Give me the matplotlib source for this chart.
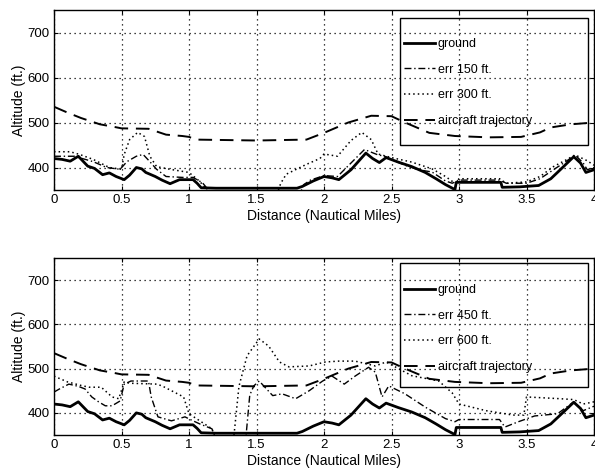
import matplotlib
matplotlib.use("Agg")
import matplotlib.pyplot as plt
from matplotlib.patches import Rectangle

plt.rcParams['font.family'] = ['Liberation Sans', 'DejaVu Sans']

# ---- data ----
ground_d = [0, 0.06, 0.12, 0.18, 0.25, 0.3, 0.36, 0.41, 0.46, 0.52, 0.56, 0.61, 0.65, 0.68,
            0.75, 0.8, 0.86, 0.93, 1.03, 1.06, 1.09, 1.2, 1.5, 1.8, 1.84, 1.92, 2.0, 2.06,
            2.11, 2.2, 2.31, 2.36, 2.41, 2.46, 2.55, 2.65, 2.75, 2.83, 2.9, 2.97, 2.98,
            3.31, 3.32, 3.45, 3.59, 3.68, 3.75, 3.85, 3.9, 3.94, 4.0]
ground_alt = [420, 418, 414, 425, 403, 398, 384, 388, 380, 373, 383, 400, 397, 389,
              380, 372, 364, 373, 373, 365, 355, 354, 354, 354, 358, 370, 380, 377,
              373, 395, 432, 420, 411, 422, 412, 402, 389, 375, 362, 351, 367,
              367, 356, 357, 360, 375, 395, 424, 410, 389, 395]

traj_d = [0, 0.1, 0.2, 0.34, 0.45, 0.5, 0.7, 0.83, 0.95, 1.0, 1.05, 1.5, 1.87, 2.0,
          2.18, 2.35, 2.5, 2.6, 2.78, 2.97, 3.22, 3.46, 3.6, 3.68, 3.83, 4.0]
traj_alt = [535, 522, 510, 496, 490, 487, 486, 473, 470, 468, 462, 460, 462, 477,
            500, 515, 514, 500, 477, 470, 467, 468, 478, 489, 496, 500]

err150_d = [0, 0.15, 0.29, 0.39, 0.49, 0.54, 0.61, 0.66, 0.71, 0.76, 0.83, 0.95, 1.03,
            1.1, 1.13, 1.16, 1.82, 1.85, 1.9, 2.0, 2.1, 2.2, 2.3, 2.4, 2.45, 2.5, 2.6,
            2.7, 2.8, 2.9, 2.95, 3.0, 3.3, 3.35, 3.5, 3.6, 3.7, 3.8, 3.86, 3.92, 3.95, 4.0]
err150_alt = [425, 425, 413, 400, 396, 413, 425, 429, 413, 396, 380, 378, 378,
              366, 355, 340, 340, 362, 372, 382, 380, 410, 440, 428, 425, 418, 405,
              395, 390, 370, 365, 372, 372, 365, 365, 375, 395, 415, 428, 410, 395, 400]

err300_d = [0, 0.12, 0.19, 0.29, 0.41, 0.5, 0.52, 0.56, 0.62, 0.67, 0.71, 0.76, 0.86,
            1.0, 1.08, 1.12, 1.15, 1.65, 1.68, 1.72, 1.87, 1.97, 2.0, 2.1, 2.2, 2.28,
            2.35, 2.4, 2.5, 2.65, 2.8, 2.9, 2.97, 3.0, 3.3, 3.35, 3.5, 3.6, 3.7, 3.8,
            3.86, 3.95, 4.0]
err300_alt = [435, 435, 429, 418, 400, 396, 429, 462, 478, 469, 425, 402, 396,
              389, 369, 355, 340, 340, 365, 385, 407, 420, 430, 425, 460, 478,
              462, 430, 422, 412, 397, 380, 365, 375, 375, 365, 368, 380, 402, 418,
              428, 415, 405]

err450_d = [0, 0.04, 0.11, 0.18, 0.23, 0.28, 0.33, 0.38, 0.43, 0.49, 0.52, 0.57, 0.7,
            0.72, 0.77, 0.87, 0.97, 1.03, 1.08, 1.17, 1.2, 1.42, 1.45, 1.48, 1.52,
            1.62, 1.69, 1.79, 1.89, 1.99, 2.06, 2.15, 2.23, 2.33, 2.38, 2.43, 2.48,
            2.6, 2.75, 2.9, 2.97, 3.0, 3.3, 3.34, 3.44, 3.56, 3.73, 3.85, 3.92, 4.0]
err450_alt = [447, 454, 465, 460, 454, 436, 425, 416, 416, 427, 465, 472, 472,
              436, 391, 382, 391, 382, 375, 364, 340, 340, 440, 461, 472,
              439, 443, 432, 450, 472, 483, 465, 483, 503, 492, 436, 461,
              443, 413, 387, 380, 385, 385, 368, 380, 393, 398, 425, 405, 415]

err600_d = [0, 0.1, 0.2, 0.26, 0.35, 0.43, 0.48, 0.52, 0.56, 0.76, 0.8, 0.96, 1.0,
            1.08, 1.17, 1.2, 1.33, 1.37, 1.43, 1.52, 1.59, 1.67, 1.74, 1.89, 2.01,
            2.11, 2.23, 2.38, 2.46, 2.65, 2.85, 2.95, 3.0, 3.2, 3.4, 3.48, 3.5,
            3.75, 3.85, 3.92, 4.0]
err600_alt = [483, 470, 462, 458, 458, 436, 432, 470, 467, 465, 461, 436, 398,
              382, 364, 340, 340, 460, 529, 567, 551, 515, 504, 506, 515,
              517, 517, 506, 515, 484, 472, 445, 420, 405, 395, 395, 436,
              432, 430, 420, 425]

x_ticks = [0, 0.5, 1, 1.5, 2, 2.5, 3, 3.5, 4]
x_ticklabels = ['0', '0.5', '1', '1.5', '2', '2.5', '3', '3.5', '4']
y_ticks = [400, 500, 600, 700]

# ---- figure ----
fig = plt.figure(figsize=(5.95, 4.72), dpi=100)
W, H = 595, 472

def axes_px(left, top, right, bottom):
    return fig.add_axes([left / W, 1 - bottom / H, (right - left) / W, (bottom - top) / H])

ax1 = axes_px(54, 10, 594, 190)
ax2 = axes_px(54, 258, 594, 435)

styles = dict(
    ground=dict(color='black', lw=2.0, ls='-'),
    e1=dict(color='black', lw=1.0, ls=(0, (5, 2, 1, 2))),
    e2=dict(color='black', lw=1.1, ls=(0, (1, 2))),
    traj=dict(color='black', lw=1.4, ls=(0, (7, 4))),
)

# legend layout in pixel terms: (box top, box bottom, first-entry top)
panels = [
    (ax1, err150_d, err150_alt, err300_d, err300_alt, 'err 150 ft.', 'err 300 ft.',
     (10, 190), (18, 145, 38)),
    (ax2, err450_d, err450_alt, err600_d, err600_alt, 'err 450 ft.', 'err 600 ft.',
     (258, 435), (263, 387, 284)),
]

for ax, e1d, e1a, e2d, e2a, l1, l2, (atop, abot), (btop, bbot, etop) in panels:
    ax.plot(ground_d, ground_alt, label='ground', **styles['ground'])
    ax.plot(e1d, e1a, label=l1, **styles['e1'])
    ax.plot(e2d, e2a, label=l2, **styles['e2'])
    ax.plot(traj_d, traj_alt, label='aircraft trajectory', **styles['traj'])
    ax.set_xlim(0, 4)
    ax.set_ylim(350, 750)
    ax.set_xticks(x_ticks)
    ax.set_xticklabels(x_ticklabels)
    ax.set_yticks(y_ticks)
    ax.grid(True, color='black', ls=(0, (1, 3)), lw=0.9)
    ax.tick_params(direction='in', length=3, width=0.8, top=True, right=True,
                   labelsize=9.5, pad=3)
    for s in ax.spines.values():
        s.set_linewidth(1.0)
        s.set_color('black')
    ax.set_xlabel('Distance (Nautical Miles)', fontsize=10, labelpad=2)
    ax.set_ylabel('Altitude (ft.)', fontsize=10, labelpad=1)

    ah = abot - atop
    fy = lambda py: (abot - py) / ah
    fx = lambda px: (px - 54) / 540
    ax.add_patch(Rectangle((fx(400), fy(bbot)), fx(588) - fx(400), fy(btop) - fy(bbot),
                           transform=ax.transAxes, facecolor='none', edgecolor='black',
                           lw=1.0, zorder=5))
    ax.legend(loc='upper left', bbox_to_anchor=(fx(404), fy(etop)),
              fontsize=9, frameon=False, handlelength=2.5, handletextpad=0.2,
              labelspacing=1.1, borderpad=0, borderaxespad=0)

fig.savefig('out.png', dpi=100)
